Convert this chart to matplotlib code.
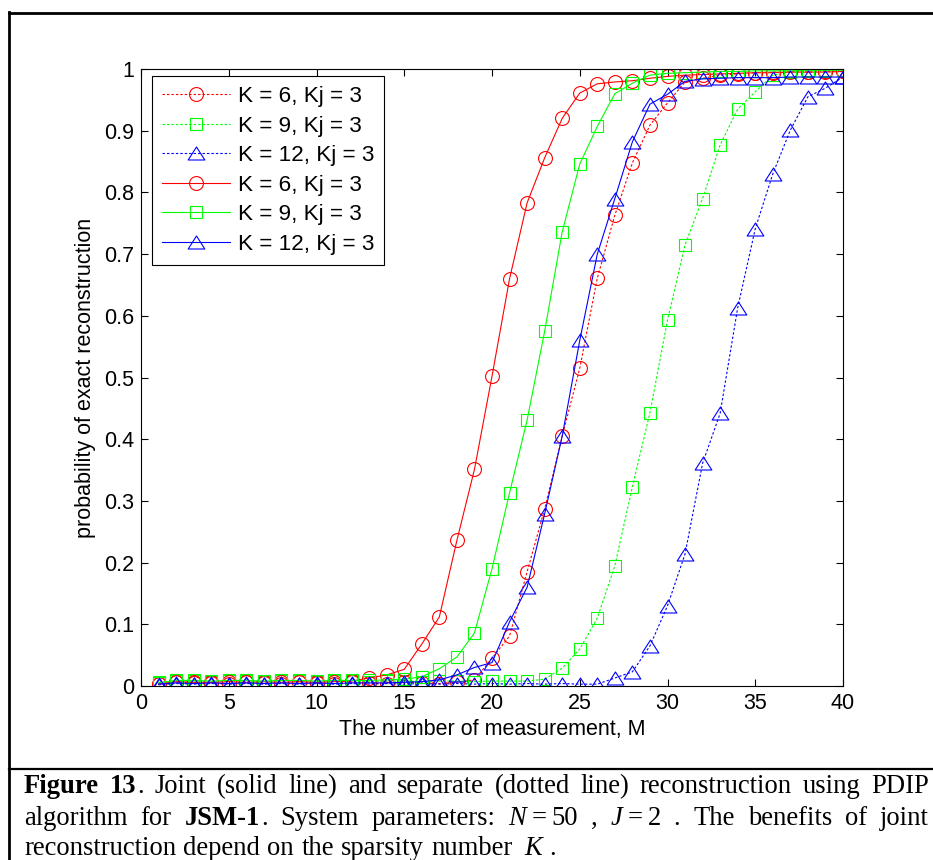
import matplotlib
matplotlib.use("Agg")
import matplotlib.pyplot as plt
from matplotlib.path import Path
from matplotlib.lines import Line2D
import numpy as np

# ---------------- data ----------------
M = list(range(1, 41))

sep_k6 = [0.004, 0.006, 0.005, 0.005, 0.004, 0.006, 0.005, 0.004, 0.006, 0.005,
          0.004, 0.006, 0.005, 0.004, 0.006, 0.005, 0.004, 0.006, 0.010, 0.045,
          0.081, 0.185, 0.287, 0.405, 0.515, 0.661, 0.763, 0.848, 0.909, 0.945,
          0.979, 0.985, 0.990, 0.992, 0.994, 0.995, 0.996, 0.995, 0.996, 0.996]
sep_k9 = [0.006, 0.008, 0.008, 0.007, 0.008, 0.008, 0.007, 0.008, 0.008, 0.007,
          0.008, 0.008, 0.007, 0.008, 0.008, 0.007, 0.008, 0.008, 0.007, 0.008,
          0.008, 0.008, 0.011, 0.029, 0.060, 0.110, 0.195, 0.323, 0.443, 0.593,
          0.715, 0.790, 0.877, 0.935, 0.963, 0.990, 0.995, 0.997, 0.997, 0.998]
sep_k12 = [0.002, 0.004, 0.003, 0.004, 0.003, 0.004, 0.003, 0.004, 0.003, 0.004,
           0.003, 0.004, 0.003, 0.004, 0.003, 0.004, 0.003, 0.004, 0.003, 0.004,
           0.003, 0.004, 0.003, 0.004, 0.003, 0.003, 0.013, 0.023, 0.065, 0.130,
           0.214, 0.361, 0.442, 0.613, 0.741, 0.830, 0.901, 0.955, 0.969, 0.987]
joint_k6 = [0.003, 0.007, 0.006, 0.006, 0.007, 0.006, 0.007, 0.006, 0.007, 0.006,
            0.007, 0.008, 0.013, 0.018, 0.027, 0.068, 0.112, 0.236, 0.351, 0.502,
            0.660, 0.783, 0.856, 0.920, 0.961, 0.976, 0.979, 0.981, 0.985, 0.988,
            0.990, 0.991, 0.992, 0.993, 0.994, 0.994, 0.995, 0.995, 0.995, 0.996]
joint_k9 = [0.005, 0.009, 0.009, 0.008, 0.009, 0.009, 0.008, 0.009, 0.009, 0.008,
            0.009, 0.009, 0.009, 0.010, 0.011, 0.015, 0.028, 0.047, 0.086, 0.190,
            0.313, 0.431, 0.575, 0.736, 0.846, 0.907, 0.960, 0.977, 0.990, 0.993,
            0.994, 0.995, 0.996, 0.996, 0.997, 0.997, 0.997, 0.998, 0.998, 0.998]
joint_k12 = [0.003, 0.005, 0.004, 0.005, 0.004, 0.005, 0.004, 0.005, 0.004, 0.005,
             0.004, 0.005, 0.005, 0.005, 0.006, 0.007, 0.010, 0.018, 0.030, 0.038,
             0.104, 0.160, 0.279, 0.405, 0.560, 0.700, 0.790, 0.882, 0.943, 0.959,
             0.980, 0.984, 0.985, 0.986, 0.986, 0.986, 0.987, 0.987, 0.987, 0.987]

labels = ["K = 6, Kj = 3", "K = 9, Kj = 3", "K = 12, Kj = 3",
          "K = 6, Kj = 3", "K = 9, Kj = 3", "K = 12, Kj = 3"]
xticks = [0, 5, 10, 15, 20, 25, 30, 35, 40]
yticks = [0, 0.1, 0.2, 0.3, 0.4, 0.5, 0.6, 0.7, 0.8, 0.9, 1.0]
ytick_labels = ["0", "0.1", "0.2", "0.3", "0.4", "0.5", "0.6", "0.7", "0.8", "0.9", "1"]
xlabel = "The number of measurement, M"
ylabel = "probability of exact reconstruction"

# caption: (text, style, gap before) ; style b=bold, i=italic, n=normal
# gap: None=line start, 'j'=justified space, '0'=no space, 's'=small space, 'w'=wide space
caption_lines = [
    [("Figure", "b", None), ("13", "b", "j"), (".", "n", "0"), ("Joint", "n", "j"),
     ("(solid", "n", "j"), ("line)", "n", "j"), ("and", "n", "j"), ("separate", "n", "j"),
     ("(dotted", "n", "j"), ("line)", "n", "j"), ("reconstruction", "n", "j"),
     ("using", "n", "j"), ("PDIP", "n", "j")],
    [("algorithm", "n", None), ("for", "n", "j"), ("JSM-1", "b", "j"), (".", "n", "0"),
     ("System", "n", "j"), ("parameters:", "n", "j"), ("N", "i", "j"), ("=", "n", "s"),
     ("50", "n", "s"), (",", "n", "j"), ("J", "i", "j"), ("=", "n", "s"), ("2", "n", "s"),
     (".", "n", "j"), ("The", "n", "j"), ("benefits", "n", "j"), ("of", "n", "j"),
     ("joint", "n", "j")],
    [("reconstruction", "n", None), ("depend", "n", "j"), ("on", "n", "j"),
     ("the", "n", "j"), ("sparsity", "n", "j"), ("number", "n", "j"), ("K", "i", "w"),
     (".", "n", "j")],
]
caption_justify = [True, True, False]

# ---------------- figure ----------------
W, H = 933, 860
fig = plt.figure(figsize=(W / 100, H / 100), dpi=100)
fig.patch.set_facecolor("white")

sans = "Liberation Sans"
serif = "Liberation Serif"
fs = 15.5

ax = fig.add_axes([141 / W, 1 - 686 / H, (843 - 141) / W, (686 - 69) / H])

tri = Path([(0, 0.78), (-1, -0.78), (1, -0.78), (0, 0.78)],
           [Path.MOVETO, Path.LINETO, Path.LINETO, Path.CLOSEPOLY])

dot = (0, (2.2, 1.8))
series = [
    (sep_k6, "#ff0000", "o", dot, 10.0),
    (sep_k9, "#00ff00", "s", dot, 9.2),
    (sep_k12, "#0000ff", tri, dot, 12.0),
    (joint_k6, "#ff0000", "o", "-", 10.0),
    (joint_k9, "#00ff00", "s", "-", 9.2),
    (joint_k12, "#0000ff", tri, "-", 12.0),
]
for (vals, col, mk, ls, ms), lab in zip(series, labels):
    ax.plot(M, vals, color=col, linestyle=ls, linewidth=0.8, marker=mk,
            markersize=ms, markerfacecolor="none", markeredgecolor=col,
            markeredgewidth=0.8, label=lab)

ax.set_xlim(0, 40)
ax.set_ylim(0, 1)
ax.set_xticks(xticks)
ax.set_xticklabels([str(v) for v in xticks])
ax.set_yticks(yticks)
ax.set_yticklabels(ytick_labels)
ax.tick_params(direction="in", length=5, width=0.8, top=True, right=True,
               labelsize=fs, pad=5)
for lab in ax.get_xticklabels() + ax.get_yticklabels():
    lab.set_fontfamily(sans)
for sp in ax.spines.values():
    sp.set_linewidth(0.8)

ax.set_xlabel(xlabel, fontsize=fs, fontfamily=sans, labelpad=4)
ax.set_ylabel(ylabel, fontsize=fs, fontfamily=sans, labelpad=6)

leg = ax.legend(loc="upper left", bbox_to_anchor=((152 - 141) / (843 - 141), 1 - (76 - 69) / (686 - 69)),
                borderaxespad=0, fancybox=False, edgecolor="black", framealpha=1,
                prop={"family": sans, "size": 16.2}, handlelength=3.0,
                handletextpad=0.35, labelspacing=0.38, borderpad=0.45)
leg.get_frame().set_linewidth(0.8)

# ---------------- borders ----------------
def fx(px):
    return px / W

def fy(py):
    return 1 - py / H

fig.add_artist(Line2D([fx(9), fx(W + 5)], [fy(13), fy(13)], color="black", lw=2.0))
fig.add_artist(Line2D([fx(9), fx(9)], [fy(12), fy(H + 5)], color="black", lw=2.0))
fig.add_artist(Line2D([fx(9), fx(W + 5)], [fy(769), fy(769)], color="black", lw=1.6))

# ---------------- caption (justified) ----------------
cap_fs = 19.2
styles = {"b": dict(fontweight="bold", fontstyle="normal"),
          "i": dict(fontweight="normal", fontstyle="italic"),
          "n": dict(fontweight="normal", fontstyle="normal")}
baselines = [793, 825, 855]
left_px, right_px = 24, 929
fig.canvas.draw()
renderer = fig.canvas.get_renderer()
space_px = 0.27 * cap_fs * 100 / 72
small_px = 5.0
wide_px = 0.45 * cap_fs * 100 / 72

for line, just, base in zip(caption_lines, caption_justify, baselines):
    objs = []
    for txt, st, gap in line:
        t = fig.text(0, fy(base), txt, fontsize=cap_fs, fontfamily=serif,
                     va="baseline", ha="left", **styles[st])
        objs.append(t)
    widths = [t.get_window_extent(renderer).width for t in objs]
    fixed = 0.0
    nj = 0
    for (txt, st, gap) in line:
        if gap == "j":
            nj += 1
        elif gap == "s":
            fixed += small_px
        elif gap == "w":
            fixed += wide_px
        elif gap == "0":
            fixed += 1.0
    if just and nj > 0:
        jgap = (right_px - left_px - sum(widths) - fixed) / nj
    else:
        jgap = space_px
    x = left_px
    for t, w, (txt, st, gap) in zip(objs, widths, line):
        if gap == "j":
            x += jgap
        elif gap == "s":
            x += small_px
        elif gap == "w":
            x += wide_px
        elif gap == "0":
            x += 1.0
        t.set_x(fx(x))
        x += w

fig.savefig("out.png", dpi=100)
